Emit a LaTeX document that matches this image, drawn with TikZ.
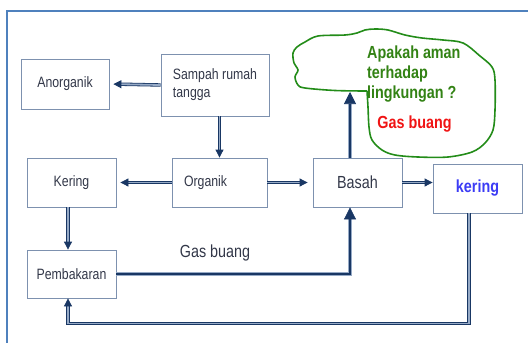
\documentclass[tikz,border=0pt]{standalone}
\usepackage{fontspec}
\setmainfont{Liberation Sans}[FakeStretch=0.82]
\usetikzlibrary{arrows.meta}

\definecolor{biruTua}{RGB}{25,55,100}
\definecolor{biruMuda}{RGB}{150,170,198}
\definecolor{garisKotak}{RGB}{125,145,175}
\definecolor{garisBingkai}{RGB}{79,129,189}
\definecolor{teksAbu}{RGB}{50,55,72}
\definecolor{hijauAwan}{RGB}{35,140,25}
\definecolor{hijauTeks}{RGB}{50,130,20}
\definecolor{merahTeks}{RGB}{240,20,20}
\definecolor{biruTeks}{RGB}{60,60,245}

\begin{document}
\begin{tikzpicture}[x=1pt,y=-1pt,
    kotak/.style={draw=garisKotak, line width=0.8pt, text=teksAbu,
        font=\fontsize{15}{18}\selectfont, inner sep=2pt},
    panah/.style={draw=biruTua, double=biruMuda, line width=0.8pt,
        double distance=1.8pt, -{Triangle[length=8pt,width=8pt]}},
    panahTebal/.style={draw=biruMuda, double=biruTua, line width=0.7pt,
        double distance=2.6pt, -{Triangle[length=12pt,width=12pt,color=biruTua]}},
    besar/.style={font=\fontsize{17.5}{20}\selectfont},
    tebal/.style={font=\bfseries\fontsize{17.5}{20}\selectfont}]
        % Canvas and frame
        \useasboundingbox (0,0) rectangle (528,343);
        \clip (0,0) rectangle (528,343);
        \draw[garisBingkai,line width=1.8pt] (7,360) -- (7,11) -- (540,11);

        % Boxes
        \node[kotak,minimum width=88pt,minimum height=50pt] (anorganik) at (65,84) {Anorganik};
        \node[kotak,minimum width=108pt,minimum height=62pt,align=left] (sampah) at (215,85) {Sampah rumah\\tangga};
        \node[kotak,minimum width=89pt,minimum height=49pt] (kering) at (71.5,182.5) {Kering};
        \node[kotak,minimum width=95pt,minimum height=49pt,text width=71pt,align=left] (organik) at (219.5,182.5) {Organik};
        \node[kotak,minimum width=89pt,minimum height=48pt] (pembakaran) at (71.5,274) {Pembakaran};
        \node[kotak,besar,minimum width=89pt,minimum height=49pt] (basah) at (357.5,182.5) {Basah};
        \node[kotak,tebal,minimum width=89pt,minimum height=49pt,text=biruTeks] (keringB) at (477.5,188.5) {kering};

        % Cloud note (freehand)
        \draw[hijauAwan,line width=1.6pt,line join=round] plot[smooth,tension=0.55] coordinates {
            (367,91) (335,90.5) (305,88) (298,85) (295,77) (298,70) (294,63)
            (293,53) (297,47) (305,42) (318,36) (345,35) (357,33) (365,30)
            (375,29) (388,30) (405,35) (422,38) (443,40) (463,43) (480,56)
            (492,67) (495,80) (495,110) (493,130) (485,143) (472,152)
            (448,157) (418,157) (395,155) (382,150) (372,140) (369,127)
            (368,107) (367,91)};
        \coordinate (awan) at (350,92);
        \node[tebal,anchor=north west,inner sep=0pt,align=left,text=hijauTeks] (tanya) at (367,45.5)
              {Apakah aman\\terhadap\\lingkungan ?};
        \node[tebal,text=merahTeks] (gasMerah) at (414.5,124) {Gas buang};

        % Label on the exhaust line
        \node[besar,text=teksAbu] (gasBuang) at (215,253) {Gas buang};

        % Arrows between boxes
        \draw[panah,shorten >=4pt] (sampah.west) -- (anorganik.east);
        \draw[panah] (organik.north |- sampah.south) -- (organik.north);
        \draw[panah,shorten >=4pt] (organik.west) -- (kering.east);
        \draw[panah,shorten >=5pt] (organik.east) -- (basah.west);
        \draw[panah] (basah.east) -- (basah.east -| keringB.west);
        \draw[panah] ([xshift=-3.5pt]kering.south) -- ([xshift=-3.5pt]pembakaran.north);

        % Exhaust goes to Basah, then up to the cloud
        \draw[panahTebal] (pembakaran.east) -| ([xshift=-7.5pt]basah.south);
        \draw[panahTebal] ([xshift=-7.5pt]basah.north) -- (awan);

        % Dry part goes back to burning
        \draw[panah] ([xshift=-8.5pt]keringB.south) -- ++(0,110) -| ([xshift=-3.5pt]pembakaran.south);
    \end{tikzpicture}
\end{document}
